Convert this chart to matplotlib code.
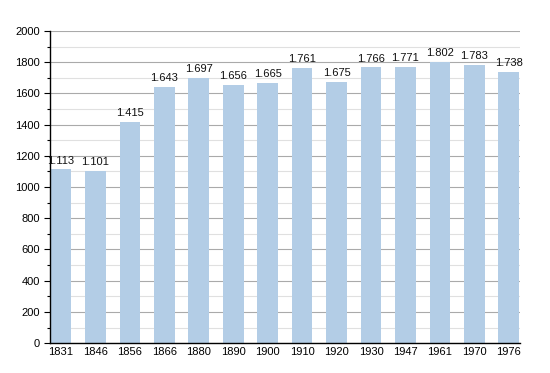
import matplotlib.pyplot as plt
from matplotlib.ticker import MultipleLocator

plt.rcParams['font.family'] = ['Liberation Sans', 'DejaVu Sans']

years = ['1831', '1846', '1856', '1866', '1880', '1890', '1900', '1910',
         '1920', '1930', '1947', '1961', '1970', '1976']
population = [1113, 1101, 1415, 1643, 1697, 1656, 1665, 1761,
              1675, 1766, 1771, 1802, 1783, 1738]

fig = plt.figure(figsize=(5.5, 3.73), dpi=100)
ax = fig.add_axes([0.091, 0.080, 0.854, 0.837])
ax.set_axisbelow(True)

x = range(len(years))
ax.bar(x, population, width=0.6, color='#b3cde6')

for i, v in enumerate(population):
    lbl = '{:,}'.format(v).replace(',', '.')
    ax.text(i, v + 25, lbl, ha='center', va='bottom', fontsize=8, color='#111111')

ax.set_xticks(list(x))
ax.set_xticklabels(years, fontsize=8)
ax.set_xlim(-0.32, len(years) - 0.68)
ax.set_ylim(0, 2000)
ax.yaxis.set_major_locator(MultipleLocator(200))
ax.yaxis.set_minor_locator(MultipleLocator(100))
ax.tick_params(axis='y', labelsize=8, length=4, width=0.8)
ax.tick_params(axis='y', which='minor', length=2.5, width=0.8)
ax.tick_params(axis='x', length=0, pad=3)

ax.grid(axis='y', which='major', color='#aaaaaa', linewidth=0.8)
ax.grid(axis='y', which='minor', color='#e0e0e0', linewidth=0.8)

for s in ['top', 'right']:
    ax.spines[s].set_visible(False)
ax.spines['left'].set_linewidth(1.0)
ax.spines['bottom'].set_linewidth(1.0)

plt.savefig('out.png', dpi=100)
